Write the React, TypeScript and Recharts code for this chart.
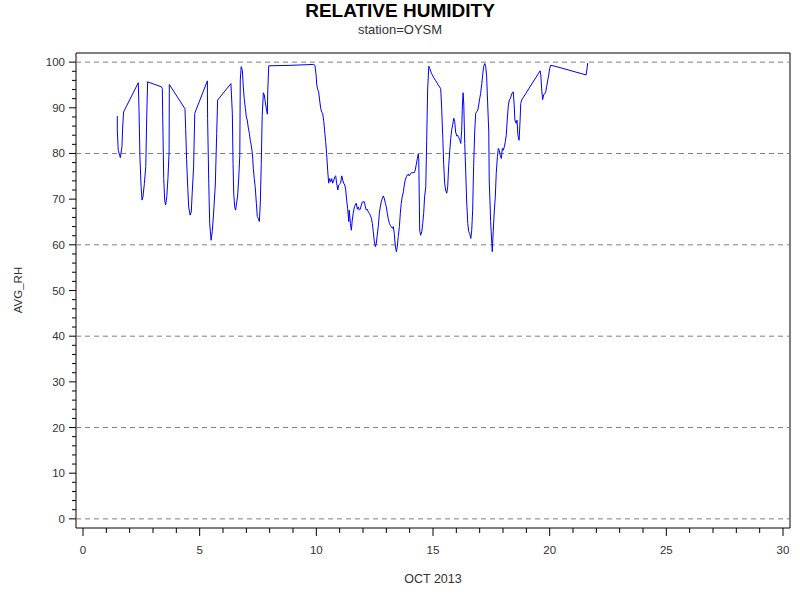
import React from 'react';
import { LineChart, Line, XAxis, YAxis, ReferenceLine, ReferenceArea } from 'recharts';

// [day of October 2013, average relative humidity %]
const week1: [number, number][] = [
  [1.47, 88.2], [1.47, 85.1], [1.51, 80.7], [1.6, 79.1], [1.67, 81.5], [1.7, 85.8], [1.74, 89.1], [2.37, 95.5],
  [2.4, 89.5], [2.44, 79.3], [2.49, 72.7], [2.53, 69.8], [2.57, 70.5], [2.63, 73.4], [2.69, 77.1], [2.73, 87.7],
  [2.77, 95.7], [2.87, 95.5], [3.36, 94.6], [3.4, 94.2], [3.42, 86.7], [3.46, 74.5], [3.5, 69.8], [3.54, 68.7],
  [3.59, 70.5], [3.64, 74.5], [3.69, 80.4], [3.7, 95.1], [4.37, 89.8], [4.4, 85.5], [4.44, 78.6], [4.49, 72.4],
  [4.53, 68.3], [4.59, 66.5], [4.64, 67.2], [4.68, 71.3], [4.74, 77.1], [4.79, 88.8], [5.33, 95.9], [5.34, 87.7],
  [5.39, 73.5], [5.43, 64.7], [5.49, 61.0], [5.54, 62.9], [5.6, 67.2], [5.67, 73.1], [5.73, 84.4], [5.77, 91.7],
  [6.34, 95.3], [6.4, 88.8], [6.43, 77.8], [6.46, 71.3], [6.5, 68.3], [6.54, 67.6], [6.59, 69.4], [6.63, 70.9],
  [6.67, 74.2], [6.72, 79.6], [6.74, 96.1], [6.78, 99.0], [6.83, 98.2], [6.87, 94.6], [6.91, 92.0], [6.96, 89.8],
  [7.0, 88.0], [7.04, 87.3], [7.08, 85.8], [7.13, 84.4], [7.17, 82.9], [7.21, 81.8], [7.26, 80.0], [7.3, 76.7],
  [7.34, 74.5], [7.38, 72.7], [7.43, 69.1], [7.47, 66.2], [7.51, 65.8], [7.56, 65.1], [7.6, 69.4], [7.64, 77.8],
  [7.68, 88.3], [7.73, 93.3], [7.77, 92.8], [7.81, 91.3], [7.86, 89.8], [7.9, 88.6], [7.92, 93.9], [7.96, 99.2],
];

const week2: [number, number][] = [
  [8.91, 99.3], [9.87, 99.5], [9.94, 99.3], [9.99, 97.2], [10.02, 95.0], [10.06, 94.0], [10.1, 93.5], [10.14, 91.7],
  [10.19, 89.8], [10.23, 89.1], [10.27, 88.8], [10.32, 87.0], [10.36, 84.7], [10.4, 82.6], [10.44, 80.0], [10.49, 76.0],
  [10.53, 73.5], [10.57, 74.5], [10.62, 73.8], [10.66, 74.5], [10.7, 73.5], [10.74, 74.0], [10.79, 74.9], [10.83, 75.1],
  [10.87, 73.5], [10.92, 72.0], [10.96, 73.1], [11.0, 73.3], [11.04, 73.5], [11.09, 75.1], [11.13, 74.2], [11.17, 73.5],
  [11.22, 73.1], [11.26, 72.0], [11.3, 69.8], [11.34, 68.0], [11.39, 65.1], [11.41, 67.6], [11.46, 64.7], [11.5, 63.2],
  [11.54, 65.4], [11.58, 66.9], [11.63, 68.3], [11.67, 68.7], [11.71, 69.1], [11.76, 67.8], [11.8, 68.3], [11.84, 67.6],
  [11.88, 67.8], [11.93, 68.7], [11.97, 69.4], [12.06, 69.4], [12.1, 68.3], [12.14, 67.6], [12.18, 67.8], [12.23, 67.2],
  [12.27, 66.9], [12.31, 66.5], [12.36, 65.8], [12.4, 64.7], [12.44, 62.9], [12.48, 61.0], [12.53, 59.6], [12.57, 60.3],
  [12.61, 62.1], [12.66, 64.3], [12.7, 66.9], [12.74, 68.3], [12.78, 69.4], [12.83, 70.2], [12.87, 70.7], [12.91, 70.2],
  [12.96, 69.1], [13.0, 68.3], [13.04, 66.9], [13.08, 65.8], [13.13, 64.7], [13.17, 64.3], [13.21, 64.0], [13.26, 63.6],
  [13.3, 64.0], [13.34, 62.5], [13.38, 60.0], [13.43, 58.5], [13.47, 59.6], [13.51, 61.8], [13.56, 64.0], [13.6, 66.9],
  [13.64, 69.1], [13.68, 70.5], [13.73, 71.6], [13.77, 73.1], [13.81, 74.2], [13.86, 74.9], [13.9, 75.3], [13.94, 75.5],
  [13.98, 75.1], [14.03, 75.5], [14.07, 75.8], [14.11, 75.8], [14.2, 75.8], [14.24, 76.4], [14.28, 77.5], [14.33, 78.9],
  [14.37, 79.9], [14.39, 78.6], [14.43, 63.2], [14.47, 62.1], [14.52, 62.9], [14.56, 64.7], [14.6, 66.9], [14.64, 70.5],
  [14.69, 72.7], [14.73, 82.9], [14.77, 93.9], [14.82, 99.1], [14.86, 98.6],
];

const week3: [number, number][] = [
  [14.94, 97.5], [15.03, 96.6], [15.12, 95.9], [15.2, 95.2], [15.33, 94.2], [15.37, 90.2], [15.42, 83.3], [15.46, 77.5],
  [15.5, 73.5], [15.54, 72.0], [15.59, 71.3], [15.63, 72.7], [15.67, 77.1], [15.72, 80.7], [15.76, 83.3], [15.8, 85.1],
  [15.84, 86.2], [15.89, 87.7], [15.93, 87.0], [15.97, 84.7], [16.02, 83.8], [16.06, 84.0], [16.1, 83.5], [16.14, 83.1],
  [16.19, 82.2], [16.23, 85.1], [16.26, 90.6], [16.29, 93.3], [16.32, 90.6], [16.36, 82.2], [16.4, 76.4], [16.44, 69.8],
  [16.49, 64.7], [16.53, 62.9], [16.57, 62.5], [16.62, 61.4], [16.66, 63.2], [16.7, 67.6], [16.74, 77.1], [16.79, 85.1],
  [16.83, 88.8], [16.87, 89.1], [16.92, 89.5], [16.96, 90.6], [17.0, 92.0], [17.04, 93.1], [17.09, 95.3], [17.13, 97.2],
  [17.17, 99.0], [17.22, 99.7], [17.26, 99.0], [17.3, 96.8], [17.34, 91.3], [17.39, 84.7], [17.41, 74.2], [17.44, 69.8],
  [17.47, 65.1], [17.52, 60.3], [17.54, 58.5], [17.58, 62.9], [17.63, 67.6], [17.67, 70.5], [17.71, 75.6], [17.76, 79.3],
  [17.8, 81.1], [17.84, 80.7], [17.88, 79.6], [17.93, 78.9], [17.97, 81.1], [18.01, 80.7], [18.06, 81.5], [18.1, 82.6],
  [18.14, 84.0], [18.18, 87.3], [18.23, 90.6], [18.27, 91.7], [18.31, 92.0], [18.36, 92.8], [18.4, 93.3], [18.44, 93.5],
  [18.48, 90.6], [18.51, 87.3], [18.56, 86.6], [18.6, 87.3], [18.64, 84.0], [18.69, 82.9], [18.73, 87.0], [18.76, 90.9],
  [18.8, 91.7], [19.59, 98.1], [19.62, 97.2], [19.66, 93.9], [19.7, 91.8], [19.74, 92.8], [19.79, 93.1], [19.83, 93.5],
  [19.87, 94.6], [19.92, 96.1], [19.96, 97.2], [20.0, 98.6], [20.04, 99.3], [20.23, 99.1], [21.56, 97.2], [21.6, 98.5],
  [21.63, 99.8],
];

const xTicks = Array.from({ length: 31 }, (_, i) => i);
const yTicks = Array.from({ length: 51 }, (_, i) => i * 2);
const gridValues = [0, 20, 40, 60, 80, 100];
const xDomain = [-0.3, 30.3];
const yDomain = [-2, 102];

const titleText = 'RELATIVE HUMIDITY';
const subtitleText = 'station=OYSM';
const xTitle = 'OCT 2013';
const yTitle = 'AVG_RH';

const FONT = '"Liberation Sans", Arial, sans-serif';
const TEXT_COLOR = '#333';

const data = [...week1, ...week2, ...week3].map(([day, rh]) => ({ day, rh }));

const XTick = (props: any) => {
  const { x, y, payload } = props;
  const v = payload.value as number;
  const major = v % 5 === 0;
  return (
    <g>
      <line x1={x} x2={x} y1={y} y2={y + (major ? 8 : 5)} stroke="#000" strokeWidth={1} />
      {major && (
        <text x={x} y={y + 26} textAnchor="middle" fontSize={11.5} fontFamily={FONT} fill={TEXT_COLOR}>
          {v}
        </text>
      )}
    </g>
  );
};

const YTick = (props: any) => {
  const { x, y, payload } = props;
  const v = payload.value as number;
  const major = v % 10 === 0;
  return (
    <g>
      <line x1={x - (major ? 7 : 4)} x2={x} y1={y} y2={y} stroke="#000" strokeWidth={1} />
      {major && (
        <text x={x - 11} y={y + 4} textAnchor="end" fontSize={11.5} fontFamily={FONT} fill={TEXT_COLOR}>
          {v}
        </text>
      )}
    </g>
  );
};

export default function App() {
  return (
    <div style={{ position: 'absolute', left: 0, top: 0, width: 800, height: 600, background: '#fff', fontFamily: FONT }}>
      <LineChart width={800} height={600} data={data} margin={{ top: 53, right: 10, bottom: 0, left: 0 }}>
        <XAxis
          type="number"
          dataKey="day"
          domain={xDomain}
          ticks={xTicks}
          interval={0}
          allowDataOverflow
          axisLine={false}
          tickLine={false}
          tickSize={0}
          tickMargin={0}
          height={72}
          tick={<XTick />}
        />
        <YAxis
          type="number"
          dataKey="rh"
          domain={yDomain}
          ticks={yTicks}
          interval={0}
          allowDataOverflow
          axisLine={false}
          tickLine={false}
          tickSize={0}
          tickMargin={0}
          width={76}
          tick={<YTick />}
        />
        {gridValues.map((v) => (
          <ReferenceLine key={v} y={v} stroke="#808080" strokeWidth={1} strokeDasharray="5 4" />
        ))}
        <ReferenceArea
          x1={xDomain[0]}
          x2={xDomain[1]}
          y1={yDomain[0]}
          y2={yDomain[1]}
          fill="none"
          fillOpacity={0}
          stroke="#000"
          strokeWidth={1}
          ifOverflow="visible"
        />
        <Line
          type="linear"
          dataKey="rh"
          stroke="#0000ff"
          strokeWidth={1}
          dot={false}
          activeDot={false}
          isAnimationActive={false}
        />
      </LineChart>
      <div style={{ position: 'absolute', left: 0, top: 1, width: 800, textAlign: 'center', fontWeight: 'bold', fontSize: 19, lineHeight: '20px', color: '#000' }}>
        {titleText}
      </div>
      <div style={{ position: 'absolute', left: 0, top: 22, width: 800, textAlign: 'center', fontSize: 13, lineHeight: '16px', color: TEXT_COLOR }}>
        {subtitleText}
      </div>
      <div style={{ position: 'absolute', left: 433, top: 579, transform: 'translate(-50%, -50%)', fontSize: 12.5, whiteSpace: 'nowrap', color: TEXT_COLOR }}>
        {xTitle}
      </div>
      <div style={{ position: 'absolute', left: 18, top: 290, transform: 'translate(-50%, -50%) rotate(-90deg)', fontSize: 11.5, whiteSpace: 'nowrap', color: TEXT_COLOR }}>
        {yTitle}
      </div>
    </div>
  );
}
